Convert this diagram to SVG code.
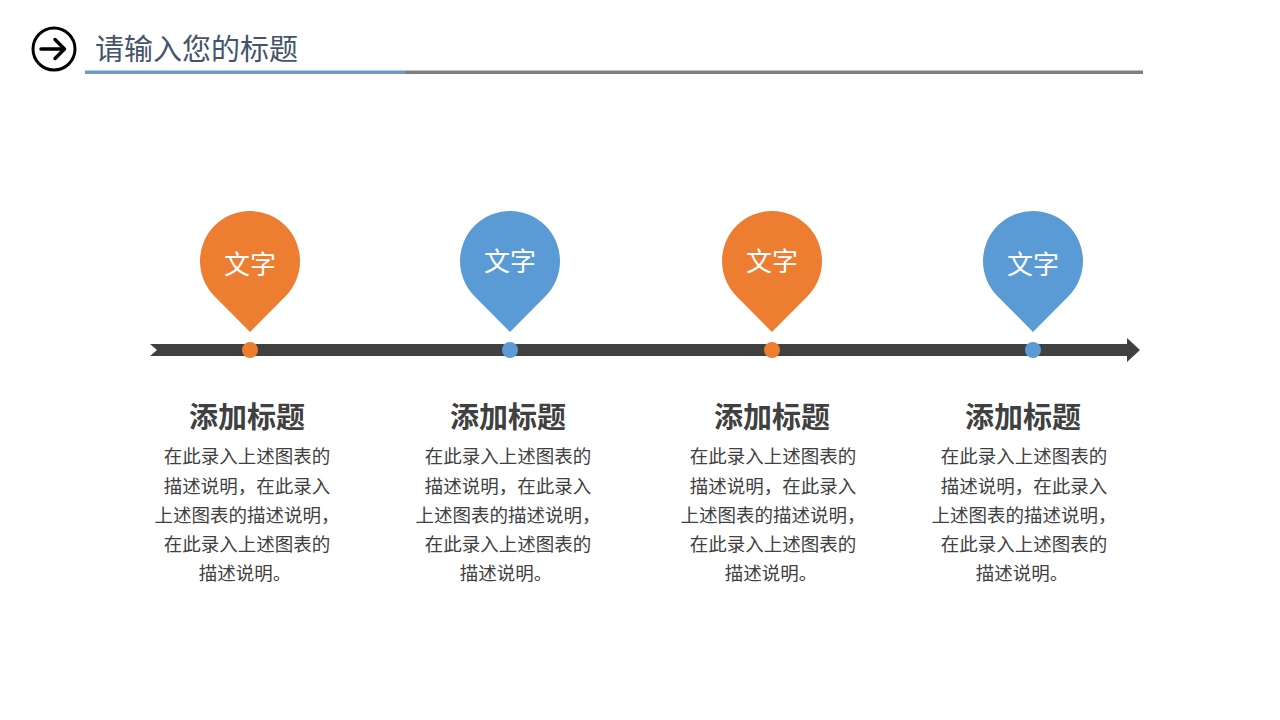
<svg xmlns="http://www.w3.org/2000/svg" width="1280" height="720" viewBox="0 0 1280 720">
<defs>
<style>
.cjk{font-family:"Noto Sans CJK SC","Noto Sans CJK JP",sans-serif;}
.pin-t{font-size:26px;fill:#ffffff;text-anchor:middle;}
.h{font-size:29px;font-weight:bold;fill:#404040;text-anchor:middle;}
.b{font-size:18.5px;fill:#404040;text-anchor:middle;}
.orange{fill:#ED7D31;}
.blue{fill:#5B9BD5;}
</style>
</defs>
<rect width="1280" height="720" fill="#ffffff"/>
<g id="header">
<circle cx="54" cy="49" r="21" fill="none" stroke="#000" stroke-width="3"/>
<path d="M41 49 H64 M55 39.5 L64.5 49 L55 58.5" fill="none" stroke="#000" stroke-width="3.5" stroke-linecap="round" stroke-linejoin="round"/>
<text x="95" y="60" class="cjk" font-size="29" fill="#44546A">请输入您的标题</text>
<rect x="85" y="70.5" width="320" height="3.5" fill="#6A9BC3"/>
<rect x="405" y="70.5" width="738" height="3.5" fill="#7F7F7F"/>
</g>
<g id="connectors">
<path d="M150 344 H1127 V338 L1140 350 L1127 362 V356 H150 L157 350 Z" fill="#404040"/>
</g>
<g id="node1">
<path class="orange" d="M250 332 L214.5 296.2 A50 50 0 1 1 285.5 296.2 Z"/>
<text x="250" y="274" class="cjk pin-t">文字</text>
<circle cx="250" cy="350" r="8" class="orange"/>
<text x="247" y="428" class="cjk h">添加标题</text>
<text class="cjk b"><tspan x="247" y="463">在此录入上述图表的</tspan><tspan x="247" y="493">描述说明，在此录入</tspan><tspan x="247" y="522">上述图表的描述说明，</tspan><tspan x="247" y="551">在此录入上述图表的</tspan><tspan x="245" y="580">描述说明。</tspan></text>
</g>
<g id="node2">
<path class="blue" d="M510 332 L474.5 296.2 A50 50 0 1 1 545.5 296.2 Z"/>
<text x="510" y="271" class="cjk pin-t">文字</text>
<circle cx="510" cy="350" r="8" class="blue"/>
<text x="508" y="428" class="cjk h">添加标题</text>
<text class="cjk b"><tspan x="508" y="463">在此录入上述图表的</tspan><tspan x="508" y="493">描述说明，在此录入</tspan><tspan x="508" y="522">上述图表的描述说明，</tspan><tspan x="508" y="551">在此录入上述图表的</tspan><tspan x="506" y="580">描述说明。</tspan></text>
</g>
<g id="node3">
<path class="orange" d="M772 332 L736.5 296.2 A50 50 0 1 1 807.5 296.2 Z"/>
<text x="772" y="271" class="cjk pin-t">文字</text>
<circle cx="772" cy="350" r="8" class="orange"/>
<text x="772" y="428" class="cjk h">添加标题</text>
<text class="cjk b"><tspan x="773" y="463">在此录入上述图表的</tspan><tspan x="773" y="493">描述说明，在此录入</tspan><tspan x="773" y="522">上述图表的描述说明，</tspan><tspan x="773" y="551">在此录入上述图表的</tspan><tspan x="771" y="580">描述说明。</tspan></text>
</g>
<g id="node4">
<path class="blue" d="M1033 332 L997.5 296.2 A50 50 0 1 1 1068.5 296.2 Z"/>
<text x="1033" y="274" class="cjk pin-t">文字</text>
<circle cx="1033" cy="350" r="8" class="blue"/>
<text x="1023" y="428" class="cjk h">添加标题</text>
<text class="cjk b"><tspan x="1024" y="463">在此录入上述图表的</tspan><tspan x="1024" y="493">描述说明，在此录入</tspan><tspan x="1024" y="522">上述图表的描述说明，</tspan><tspan x="1024" y="551">在此录入上述图表的</tspan><tspan x="1022" y="580">描述说明。</tspan></text>
</g>
</svg>
